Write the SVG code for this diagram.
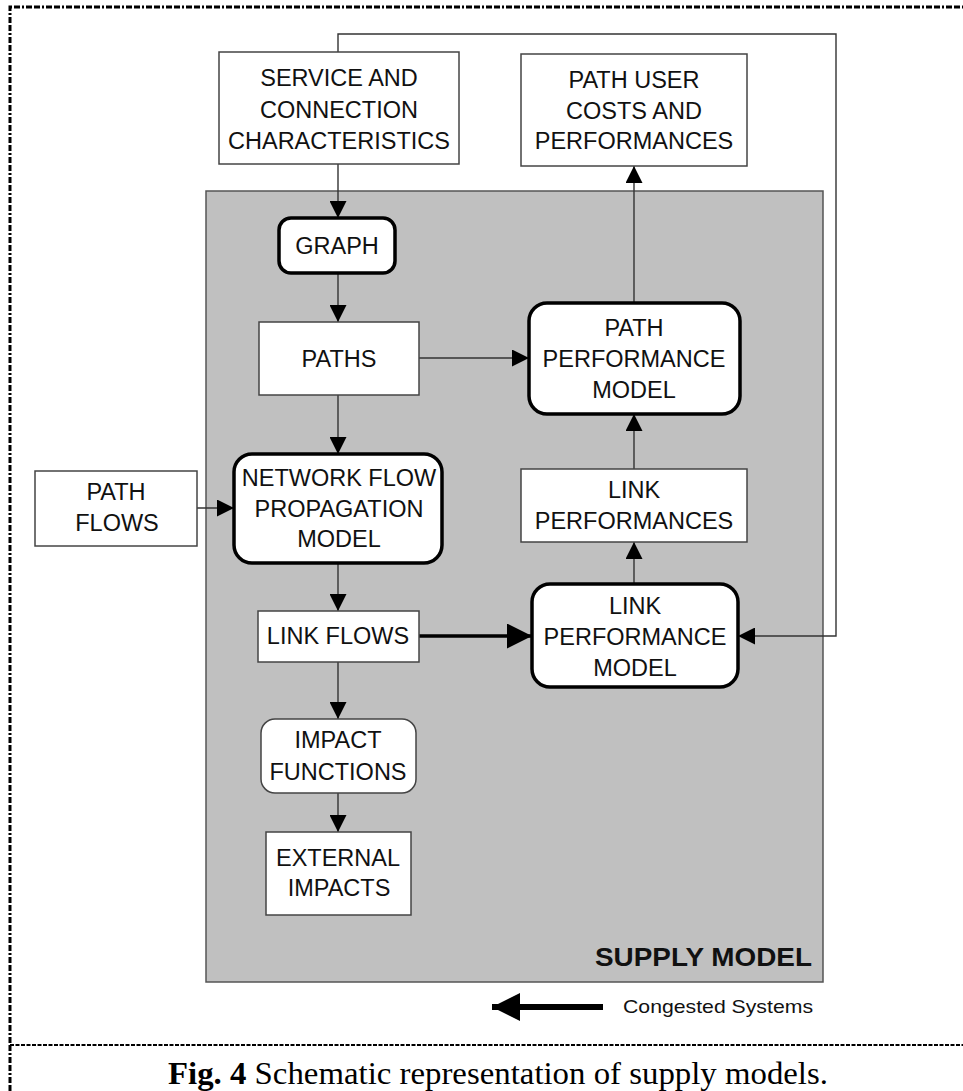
<svg xmlns="http://www.w3.org/2000/svg" width="963" height="1091" viewBox="0 0 963 1091">
<style>
.t{font-family:"Liberation Sans",Arial,sans-serif;font-size:23.5px;fill:#111;text-anchor:middle}
.box{fill:#fff;stroke:#444;stroke-width:1.5}
.thick{fill:#fff;stroke:#000;stroke-width:3.5}
.c{fill:none;stroke:#333;stroke-width:1.4}
</style>
<defs>
<marker id="ah" viewBox="0 0 16 16" refX="16" refY="8" markerWidth="17" markerHeight="17" markerUnits="userSpaceOnUse" orient="auto"><path d="M0,0 L16,8 L0,16 z" fill="#000"/></marker>
<marker id="ahb" viewBox="0 0 26 26" refX="26" refY="13" markerWidth="26" markerHeight="25" markerUnits="userSpaceOnUse" orient="auto"><path d="M0,0 L26,13 L0,26 z" fill="#000"/></marker>
<marker id="ahl" viewBox="0 0 28 28" refX="28" refY="14" markerWidth="28" markerHeight="28" markerUnits="userSpaceOnUse" orient="auto"><path d="M0,0 L28,14 L0,28 z" fill="#000"/></marker>
</defs>
<rect width="963" height="1091" fill="#fff"/>
<g id="frame" fill="none" stroke="#000">
<path d="M10,1091 V7 H963" stroke-width="3" stroke-dasharray="6 2 6 2 2 2"/>
<path d="M10,1045 H963" stroke-width="2" stroke-dasharray="4 1.5"/>
</g>
<g id="supply-model">
<rect x="206" y="191" width="617" height="791" fill="#c0c0c0" stroke="#555" stroke-width="1.5"/>
<text x="812" y="966" style="font-family:'Liberation Sans',Arial,sans-serif;font-size:25px;font-weight:bold;fill:#111;text-anchor:end" textLength="217" lengthAdjust="spacingAndGlyphs">SUPPLY MODEL</text>
</g>
<g id="connectors">
<path class="c" d="M338,164 V218" marker-end="url(#ah)"/>
<path class="c" d="M338,273 V322" marker-end="url(#ah)"/>
<path class="c" d="M338,395 V454" marker-end="url(#ah)"/>
<path class="c" d="M197,508 H234" marker-end="url(#ah)"/>
<path class="c" d="M338,563 V611" marker-end="url(#ah)"/>
<path class="c" d="M338,662 V719" marker-end="url(#ah)"/>
<path class="c" d="M338,793 V832" marker-end="url(#ah)"/>
<path class="c" d="M419,358 H529" marker-end="url(#ah)"/>
<path d="M419,636 H532" fill="none" stroke="#000" stroke-width="3.5" marker-end="url(#ahb)"/>
<path class="c" d="M634,584 V542" marker-end="url(#ah)"/>
<path class="c" d="M634,469 V414" marker-end="url(#ah)"/>
<path class="c" d="M634,303 V166" marker-end="url(#ah)"/>
<path class="c" d="M338,52 V34 H836 V636 H738" marker-end="url(#ah)"/>
</g>
<g id="service">
<rect class="box" x="219" y="52" width="240" height="112"/>
<text class="t" x="339" y="86">SERVICE AND</text>
<text class="t" x="339" y="118">CONNECTION</text>
<text class="t" x="339" y="149">CHARACTERISTICS</text>
</g>
<g id="path-user-costs">
<rect class="box" x="521" y="54" width="226" height="112"/>
<text class="t" x="634" y="88">PATH USER</text>
<text class="t" x="634" y="119">COSTS AND</text>
<text class="t" x="634" y="149">PERFORMANCES</text>
</g>
<g id="graph">
<rect class="thick" x="279" y="218" width="116" height="55" rx="12"/>
<text class="t" x="337" y="254">GRAPH</text>
</g>
<g id="paths">
<rect class="box" x="259" y="322" width="160" height="73"/>
<text class="t" x="339" y="367">PATHS</text>
</g>
<g id="network-flow-propagation-model">
<rect class="thick" x="234" y="454" width="208" height="109" rx="18"/>
<text class="t" x="339" y="486">NETWORK FLOW</text>
<text class="t" x="339" y="517">PROPAGATION</text>
<text class="t" x="339" y="547">MODEL</text>
</g>
<g id="path-flows">
<rect class="box" x="35" y="471" width="162" height="75"/>
<text class="t" x="116" y="500">PATH</text>
<text class="t" x="117" y="531">FLOWS</text>
</g>
<g id="path-performance-model">
<rect class="thick" x="529" y="303" width="211" height="111" rx="18"/>
<text class="t" x="634" y="336">PATH</text>
<text class="t" x="634" y="367">PERFORMANCE</text>
<text class="t" x="634" y="398">MODEL</text>
</g>
<g id="link-performances">
<rect class="box" x="521" y="469" width="226" height="73"/>
<text class="t" x="634" y="498">LINK</text>
<text class="t" x="634" y="529">PERFORMANCES</text>
</g>
<g id="link-performance-model">
<rect class="thick" x="532" y="584" width="206" height="103" rx="18"/>
<text class="t" x="635" y="614">LINK</text>
<text class="t" x="635" y="645">PERFORMANCE</text>
<text class="t" x="635" y="676">MODEL</text>
</g>
<g id="link-flows">
<rect class="box" x="258" y="611" width="161" height="51"/>
<text class="t" x="338" y="644">LINK FLOWS</text>
</g>
<g id="impact-functions">
<rect class="box" x="261" y="719" width="155" height="74" rx="14"/>
<text class="t" x="338" y="748">IMPACT</text>
<text class="t" x="338" y="780">FUNCTIONS</text>
</g>
<g id="external-impacts">
<rect class="box" x="266" y="832" width="145" height="83"/>
<text class="t" x="338" y="866">EXTERNAL</text>
<text class="t" x="339" y="896">IMPACTS</text>
</g>
<g id="legend">
<path d="M603,1007 H492" fill="none" stroke="#000" stroke-width="6" marker-end="url(#ahl)"/>
<text x="623" y="1013" style="font-family:'Liberation Sans',Arial,sans-serif;font-size:19px;fill:#111" textLength="190" lengthAdjust="spacingAndGlyphs">Congested Systems</text>
</g>
<g id="caption">
<text x="168" y="1084" style="font-family:'Liberation Serif','Times New Roman',serif;font-size:31px;fill:#000" textLength="660" lengthAdjust="spacingAndGlyphs"><tspan font-weight="bold">Fig. 4</tspan> Schematic representation of supply models.</text>
</g>
</svg>
